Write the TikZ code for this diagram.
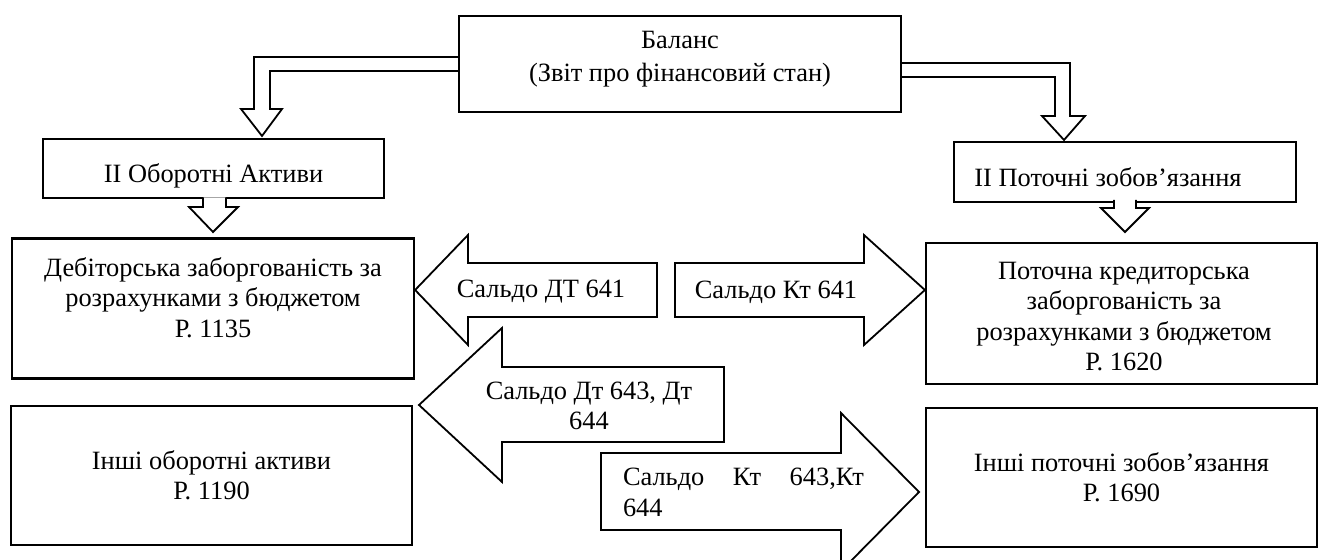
\documentclass[tikz,border=0pt]{standalone}
\usepackage{fontspec}
\setmainfont{Liberation Serif}
\usetikzlibrary{positioning,calc}

\begin{document}
\begin{tikzpicture}[
    x=0.5pt,y=-0.5pt,
    box/.style={draw,line width=1.1pt,align=center,inner sep=3pt,font=\fontsize{13.2}{15.2}\selectfont},
    txt/.style={align=center,inner sep=0pt,font=\fontsize{13.2}{15.2}\selectfont},
    hollow/.style={draw,line width=0.9pt,line join=miter,fill=white}
  ]
    \useasboundingbox (0,0) rectangle (1319,560);
    \clip (0,0) rectangle (1319,560);
    \node[box,minimum width=221pt,minimum height=48pt] (bal) at (680,64) {};
    \node[txt] (balT) at (680,59) {Баланс\\[1pt](Звіт про фінансовий стан)};
    \node[box,minimum width=170.5pt,minimum height=29.5pt] (aktyvy) at (213.5,168.5) {};
    \node[txt] (aktyvyT) at (213.5,176) {II Оборотні Активи};
    \node[box,minimum width=171pt,minimum height=30pt] (zobov) at (1125,172) {};
    \node[txt,anchor=west] (zobovT) at (974,177) {II Поточні зобов’язання};
    \node[box,minimum width=201pt,minimum height=70pt] (deb) at (213,308.5) {};
    \node[txt] (debT) at (213,297.5) {Дебіторська заборгованість за\\розрахунками з бюджетом\\Р. 1135};
    \node[box,minimum width=200.5pt,minimum height=69.5pt] (inshiA) at (211.5,475.5) {Інші оборотні активи\\Р. 1190};
    \node[box,minimum width=195.5pt,minimum height=70.5pt] (kred) at (1121.5,313.5) {};
    \node[txt] (kredT) at (1124,316.5) {Поточна кредиторська\\заборгованість за\\розрахунками з бюджетом\\Р. 1620};
    \node[box,minimum width=195.5pt,minimum height=69.5pt] (inshiZ) at (1121.5,477.5) {Інші поточні зобов’язання\\Р. 1690};
    % bent arrows from the balance
    \draw[line width=0.9pt] (bal.west |- 0,57) -- (254,57) -- (254,109) -- (241,109) -- (262,136) -- (282,109) -- (270,109) -- (270,71) -- (bal.west |- 0,71);
    \draw[line width=0.9pt] (bal.east |- 0,63) -- (1070,63) -- (1070,116) -- (1085,116) -- (1064,140) -- (1042,116) -- (1055,116) -- (1055,77) -- (bal.east |- 0,77);
    \draw[hollow] (203,197.5) -- (203,207) -- (189,207) -- (213,232) -- (238,207) -- (226,207) -- (226,197.5);
    \draw[hollow] (1114,200) -- (1114,208) -- (1101,208) -- (1125,232) -- (1149,208) -- (1136,208) -- (1136,200);
    % block arrows
    \draw[hollow] (deb.east |- 0,290) -- (468,235) -- (468,263) -- (657,263) -- (657,317) -- (468,317) -- (468,345) -- cycle;
    \draw[hollow] (kred.west |- 0,290) -- (864,235) -- (864,263) -- (675,263) -- (675,317) -- (864,317) -- (864,345) -- cycle;
    \draw[hollow] (419,405) -- (502,328) -- (502,367) -- (724,367) -- (724,442) -- (502,442) -- (502,482) -- cycle;
    \draw[hollow] (919,492) -- (841,413) -- (841,453) -- (601,453) -- (601,530) -- (841,530) -- (841,571) -- cycle;
    \node[txt] (dt641) at (541,292) {Сальдо ДТ 641};
    \node[txt] (kt641) at (776,292) {Сальдо Кт 641};
    \node[txt] (dt643) at (589,406) {Сальдо Дт 643, Дт\\644};
    \node[txt,text width=120.5pt,align=justify] (kt643) at (743.5,492.5) {Сальдо Кт 643,Кт\linebreak 644};
\end{tikzpicture}
\end{document}
